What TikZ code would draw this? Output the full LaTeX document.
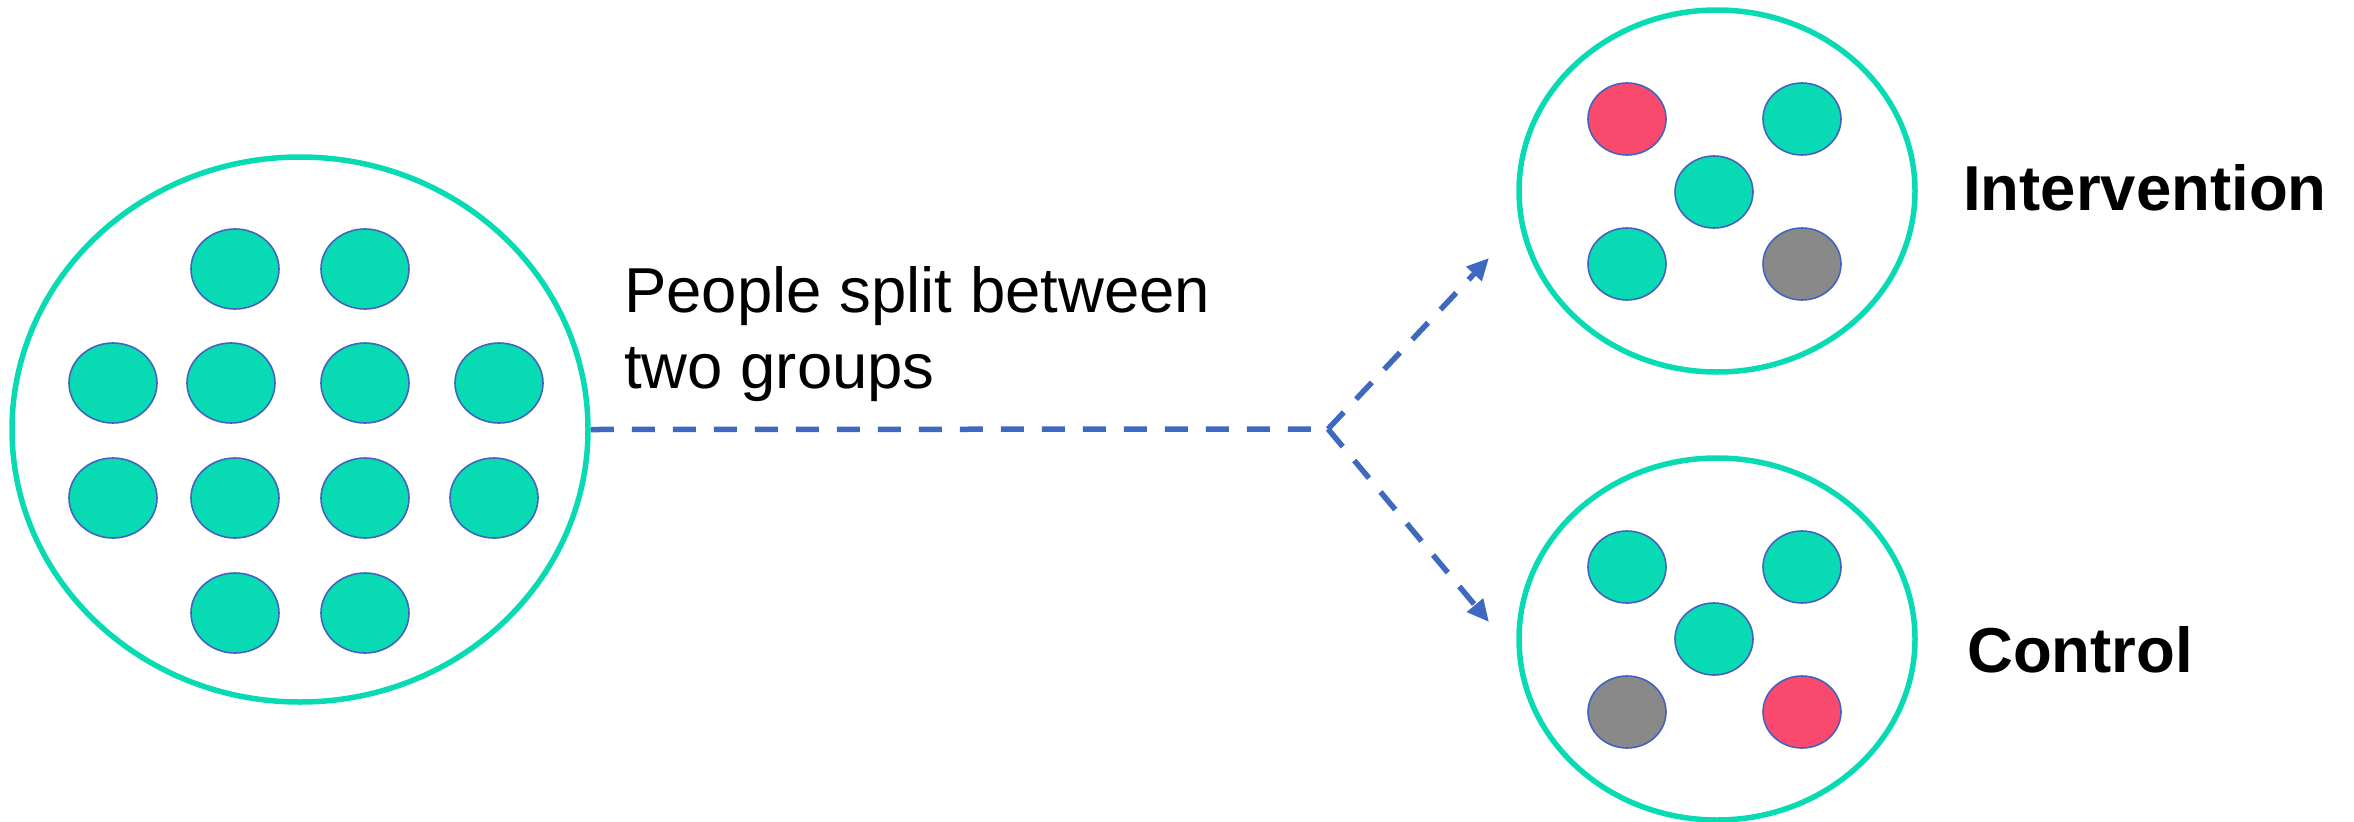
\documentclass[tikz,border=0pt]{standalone}
\usepackage{fontspec}
\setmainfont{Liberation Sans}
\usetikzlibrary{shapes.geometric,arrows.meta}
\definecolor{teal1}{HTML}{08DBB4}
\definecolor{lineblue}{HTML}{3F68C0}
\definecolor{dotborder}{HTML}{4462C0}
\definecolor{redd}{HTML}{F94A6E}
\definecolor{grayd}{HTML}{898989}
\tikzset{
  group/.style={ellipse, draw=teal1, line width=5.5pt, fill=white, inner sep=0pt},
  bigdot/.style={ellipse, draw=dotborder, line width=1.6pt, fill=teal1, minimum width=88pt, minimum height=80pt, inner sep=0pt},
  smalldot/.style={ellipse, draw=dotborder, line width=1.6pt, minimum width=78pt, minimum height=72pt, inner sep=0pt},
  flow/.style={draw=lineblue, line width=5.5pt, dash pattern=on 23pt off 18pt},
  tip/.style={-{Triangle[length=22pt,width=20pt]}},
  lbl/.style={inner sep=0pt, font=\fontsize{63.5}{91}\selectfont, text=black},
}
\begin{document}
\begin{tikzpicture}[x=1pt,y=-1pt]
\useasboundingbox (0,0) rectangle (2354,822);
% population
\node[group, minimum width=576pt, minimum height=545pt] (pop) at (300,429.5) {};
\node[bigdot] (p1) at (235,269) {};
\node[bigdot] (p2) at (365,269) {};
\node[bigdot] (p3) at (113,383) {};
\node[bigdot] (p4) at (231,383) {};
\node[bigdot] (p5) at (365,383) {};
\node[bigdot] (p6) at (499,383) {};
\node[bigdot] (p7) at (113,498) {};
\node[bigdot] (p8) at (235,498) {};
\node[bigdot] (p9) at (365,498) {};
\node[bigdot] (p10) at (494,498) {};
\node[bigdot] (p11) at (235,613) {};
\node[bigdot] (p12) at (365,613) {};
% intervention group
\node[group, minimum width=396pt, minimum height=362pt] (intv) at (1717,191) {};
\node[smalldot, fill=redd] (i1) at (1627,119) {};
\node[smalldot, fill=teal1] (i2) at (1802,119) {};
\node[smalldot, fill=teal1] (i3) at (1714,192) {};
\node[smalldot, fill=teal1] (i4) at (1627,264) {};
\node[smalldot, fill=grayd] (i5) at (1802,264) {};
% control group
\node[group, minimum width=396pt, minimum height=362pt] (ctrl) at (1717,639) {};
\node[smalldot, fill=teal1] (c1) at (1627,567) {};
\node[smalldot, fill=teal1] (c2) at (1802,567) {};
\node[smalldot, fill=teal1] (c3) at (1714,639) {};
\node[smalldot, fill=grayd] (c4) at (1627,712) {};
\node[smalldot, fill=redd] (c5) at (1802,712) {};
% connectors
\coordinate (split) at (1328,429);
\coordinate (toI) at (1489,258);
\coordinate (toC) at (1489,622);
\draw[flow] (pop.east) -- (split);
\draw[flow, tip] (split) -- (toI);
\draw[flow, tip] (split) -- (toC);
% labels
\node[lbl, anchor=base west] (t1) at (624,312) {People split between};
\node[lbl, anchor=base west] (t2) at (624,388) {two groups};
\node[lbl, anchor=base west, font=\fontsize{63.5}{76}\selectfont\bfseries] (li) at (1963,210) {Intervention};
\node[lbl, anchor=base west, font=\fontsize{63.5}{76}\selectfont\bfseries] (lc) at (1967,672) {Control};
\end{tikzpicture}
\end{document}
